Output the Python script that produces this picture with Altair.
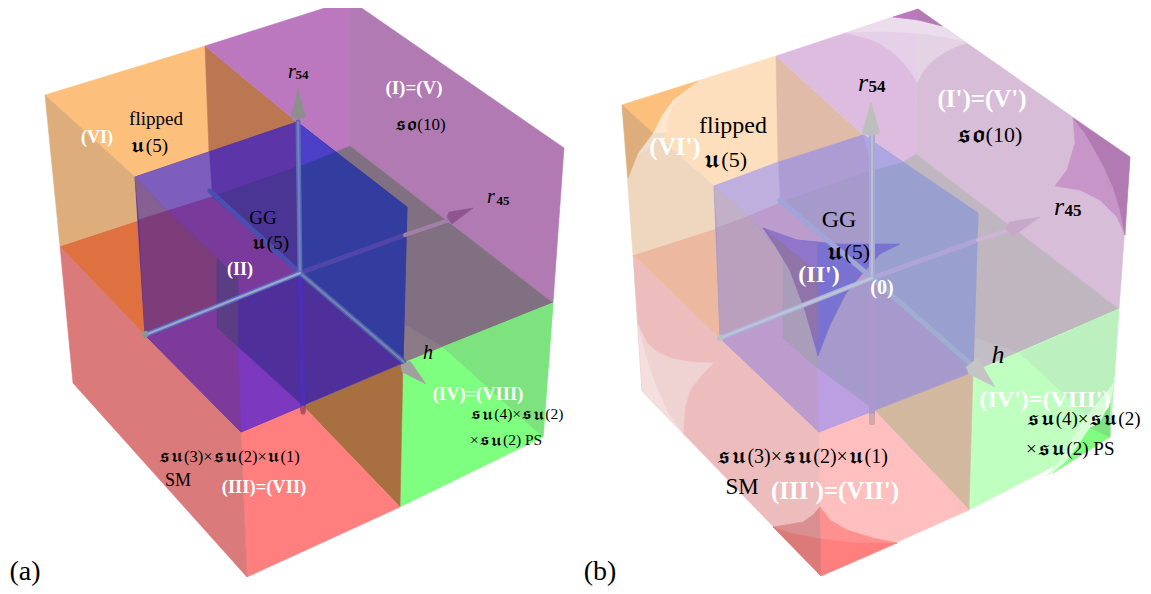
import altair as alt

# ---------- panel (a): faces as (colour, outline) ----------
faces_a = [
 ("#FDBF7C", [(45,95),(205,46),(209,152),(135,177)]),
 ("#BB7752", [(205,46),(297,122),(209,152)]),
 ("#BC78BF", [(205,46),(350,0),(350,146),(335,152),(297,122)]),
 ("#B27AB3", [(350,0),(564,148),(553,303),(350,146)]),
 ("#817081", [(350,146),(553,303),(403,363),(407,207),(335,152)]),
 ("#8B7B87", [(405,325),(443,347),(403,363)]),
 ("#7FFF7F", [(403,363),(553,303),(543,437),(400,507)]),
 ("#7CE37F", [(443,347),(553,303),(543,437)]),
 ("#A87040", [(303,406),(403,363),(400,507)]),
 ("#FF7F7F", [(241,432),(303,406),(400,507),(247,577)]),
 ("#DB7A7A", [(60,246),(73,383),(247,577),(241,432),(145,335)]),
 ("#DF7040", [(60,246),(139,220),(145,335)]),
 ("#DDAE7C", [(45,95),(135,177),(139,220),(60,246)]),
 # central square seen through the cube
 ("#4F2F9A", [(135,177),(297,122),(407,207),(403,363),(241,432),(145,335)]),
 ("#333C9F", [(297,122),(407,207),(403,363),(300,273)]),
 ("#4C3FC8", [(297,122),(335,152),(297,167)]),
 ("#5C36A8", [(209,152),(297,122),(297,167),(212,197)]),
 ("#4A3594", [(212,197),(297,167),(300,273)]),
 ("#7D5EBD", [(135,177),(209,152),(212,197),(167,211)]),
 ("#866090", [(135,177),(167,211),(139,220)]),
 ("#7A3A9B", [(167,211),(212,197),(300,273),(238,298),(238,279)]),
 ("#7D3D7B", [(139,220),(167,211),(217,258),(217,306),(145,335)]),
 ("#7E3A9B", [(145,335),(217,306),(217,327),(238,347),(241,432)]),
 ("#5A3D85", [(217,258),(238,279),(238,347),(217,327)]),
 ("#7C38BF", [(238,347),(303,406),(241,432)]),
]
rods_a = [
 ("#4B2FB5", 5, [(300,273),(303,410)]),
 ("#B0505F", 5, [(303,408),(303,412)]),
 ("#4A4FB0", 5, [(210,191),(300,273)]),
 ("#5045A8", 5, [(300,273),(405,235)]),
 ("#A07FA8", 4, [(405,235),(452,219)]),
 ("#4A60B5", 5, [(300,273),(404,362)]),
 ("#7A84A8", 2, [(300,273),(404,362)]),
 ("#5868BE", 5, [(298,122),(300,273)]),
 ("#7880B8", 2, [(298,122),(300,273)]),
 ("#5A70C8", 5, [(145,335),(300,273)]),
 ("#A0A8C4", 2, [(145,335),(300,273)]),
]
cones_a = [
 ("#8E8E8E", [(298,89),(306,117),(298,119),(291,117)]),
 ("#8E5590", [(473,208),(452,224),(447,217),(449,212)]),
 ("#A0A0A0", [(426,384),(402,372),(401,365),(410,361)]),
 ("#8A9A92", [(142,332),(147,331),(148,336),(143,338)]),
]

# ---------- panel (b) ----------
faces_b = [
 ("#FDDFBE", [(622,105),(776,56),(778,162),(714,186)]),
 ("#DFBBA8", [(776,56),(863,135),(778,162)]),
 ("#DEBCE0", [(776,56),(918,9),(916,154),(903,162),(863,135)]),
 ("#D8BDD9", [(918,9),(1130,157),(1119,309),(916,154)]),
 ("#BFB6C0", [(916,154),(1119,309),(973,372),(978,213),(903,162)]),
 ("#C3BEC5", [(975,338),(1020,353),(973,372)]),
 ("#BFFFBF", [(973,372),(1119,309),(1110,437),(969,510)]),
 ("#BCF1BF", [(1020,353),(1119,309),(1110,437)]),
 ("#D3B8A0", [(874,410),(973,372),(969,510)]),
 ("#FFBFBF", [(819,432),(874,410),(969,510),(821,576)]),
 ("#EDBDBD", [(633,255),(642,391),(821,576),(819,432),(720,338)]),
 ("#EDB8A0", [(633,255),(717,228),(720,338)]),
 ("#EED7BE", [(622,105),(714,186),(717,228),(633,255)]),
 # central square
 ("#A699CC", [(714,186),(863,135),(978,213),(973,372),(819,432),(720,338)]),
 ("#99A0D0", [(863,135),(978,213),(973,372),(872,278)]),
 ("#AEA6E2", [(863,135),(903,162),(872,170)]),
 ("#AD9CD3", [(778,162),(863,135),(872,170),(780,203)]),
 ("#A59AC9", [(780,203),(872,170),(872,278)]),
 ("#BEAFDE", [(714,186),(778,162),(780,203),(749,216)]),
 ("#C2B0C8", [(714,186),(749,216),(717,228)]),
 ("#BC9CCD", [(749,216),(780,203),(872,278),(817,298),(817,290)]),
 ("#BBA0BE", [(717,228),(749,216),(783,257),(783,312),(720,338)]),
 ("#BC9CCD", [(720,338),(783,312),(783,338),(817,368),(819,432)]),
 ("#A99DB9", [(783,257),(817,290),(817,368),(783,338)]),
 ("#BC9FE0", [(817,368),(874,410),(819,432)]),
 # inner star
 ("#7A72D0", [(763,228),(797,240),(840,244),(900,244),(880,254),(862,274),(845,295),(830,325),(818,356),(805,310),(790,270),(775,245)]),
 ("#9076CB", [(763,228),(797,240),(817,243),(817,272)]),
 ("#8F73A9", [(763,228),(817,272),(817,345),(805,310),(790,270),(775,245)]),
 # top-right corner
 ("#EBDDEC", [(846,33),(893,17),(918,20),(942,26),(967,43),(947,38),(927,35),(905,33),(877,32)]),
 ("#E6CFE8", [(846,33),(877,32),(905,33),(916,34),(917,83),(911,72),(905,65),(898,57),(890,50),(880,44),(870,39)]),
 ("#E4D2E5", [(916,34),(927,35),(947,38),(967,43),(955,47),(945,52),(936,58),(928,65),(922,73),(917,83)]),
 ("#BC78BF", [(893,17),(918,9),(918,20)]),
 ("#B27AB3", [(918,9),(942,26),(918,20)]),
 # right corner
 ("#C795C8", [(1073,118),(1084,132),(1093,147),(1104,167),(1113,187),(1120,210),(1125,235),(1117,217),(1100,200),(1080,190),(1055,186),(1067,170),(1075,143)]),
 ("#B27AB3", [(1073,118),(1130,157),(1125,235),(1120,210),(1113,187),(1104,167),(1093,147),(1084,132)]),
 # top-left corner
 ("#FEE7CE", [(698,81),(680,97),(672,107),(667,120),(667,133),(653,133),(662,115),(673,100)]),
 ("#F0DFC8", [(628,178),(638,153),(653,133),(667,133),(660,140),(650,147),(637,155)]),
 ("#FDBF7C", [(622,105),(698,81),(673,100),(662,115),(653,133)]),
 ("#DDAE7C", [(622,105),(653,133),(638,153),(628,178)]),
 # lower-left corner
 ("#EFD2D2", [(638,325),(647,343),(657,352),(670,358),(690,362),(713,363),(700,377),(690,390),(685,407),(683,433),(668,413),(655,383),(645,353)]),
 ("#F4DEDE", [(638,325),(645,353),(655,383),(668,413),(683,433),(642,391)]),
 # bottom corner
 ("#D98F8F", [(773,527),(803,522),(813,515),(820,507),(821,539),(790,533)]),
 ("#FF9090", [(820,507),(830,520),(847,530),(873,538),(897,543),(857,543),(821,539)]),
 ("#DC7A7A", [(773,527),(790,533),(821,539),(821,576)]),
 ("#FF7F7F", [(821,539),(857,543),(897,543),(821,576)]),
 # lower-right corner
 ("#D8FFD8", [(1114,383),(1110,403),(1100,423),(1090,428),(1068,460),(1053,473),(1047,475),(1060,460),(1080,425),(1100,400)]),
 ("#7FFF7F", [(1053,473),(1068,460),(1090,428),(1110,437)]),
 ("#7CE37F", [(1110,403),(1100,423),(1090,428),(1110,437)]),
]
rods_b = [
 ("#AC98CE", 6, [(872,278),(872,422)]),
 ("#D0A8A8", 6, [(872,416),(872,422)]),
 ("#A0A4D8", 5, [(780,200),(872,278)]),
 ("#AFA4D8", 5, [(872,278),(978,240)]),
 ("#CDB5D5", 4, [(978,240),(1012,229)]),
 ("#A0ACD0", 5, [(872,278),(973,366)]),
 ("#A8A8D8", 6, [(872,135),(872,278)]),
 ("#BDBDD0", 2, [(872,135),(872,278)]),
 ("#A8B4DC", 5, [(720,338),(872,278)]),
 ("#C0C4D4", 2, [(720,338),(872,278)]),
]
cones_b = [
 ("#BEBEBE", [(871,102),(880,133),(871,136),(862,133)]),
 ("#C8A8C8", [(1040,217),(1012,237),(1006,229),(1009,222)]),
 ("#C4C4C4", [(995,387),(969,374),(966,367),(978,358)]),
 ("#B8C4BC", [(718,336),(722,335),(723,340),(719,341)]),
]

# ---------- texts: (label, x, y, size) ----------
black_text = [
 ("flipped",156,119,19),("𝖚(5)",149,146,19),("GG",263,218,19),("𝖚(5)",270,243,19),
 ("𝖘𝖔(10)",420,125,17),("𝖘𝖚(3)×𝖘𝖚(2)×𝖚(1)",229,457,16.5),("SM",178,481,18),
 ("(a)",25,572,28),("(b)",600,572,28),
 ("flipped",733,126,24),("𝖚(5)",725,160,22),("GG",839,220,24),("𝖚(5)",848,252,22),
 ("𝖘𝖔(10)",989,135,22),("𝖘𝖚(3)×𝖘𝖚(2)×𝖚(1)",802,457,20),("SM",742,487,23),
]
black_left = [
 ("𝖘𝖚(4)×𝖘𝖚(2)",470,414,15.5),("×𝖘𝖚(2) PS",470,440,15.5),
 ("𝖘𝖚(4)×𝖘𝖚(2)",1026,419,19),("×𝖘𝖚(2) PS",1026,449,19),
]
white_text = [
 ("(VI)",97,138,18),("(II)",240,270,18),("(I)=(V)",414,88,19),("(III)=(VII)",264,487,18.5),
 ("(IV)=(VIII)",478,394,18.5),
 ("(VI')",675,147,25),("(II')",819,275,24),("(0)",882,288,20),("(I')=(V')",982,99,25),
 ("(III')=(VII')",835,491,25),("(IV')=(VIII')",1045,400,24),
]
italic_text = [
 ("r",292,72,20),("r",491,197,20),("h",428,353,20),
 ("r",863,83,26),("r",1059,207,26),("h",998,355,26),
]
index_text = [
 ("54",302,75,13),("45",503,201,13),("54",877,87,17),("45",1073,211,17),
]

def ring(points):
    return [list(p) for p in points] + [list(points[0])]

polygons = [
    {"type":"Feature","properties":{"color":c},"geometry":{"type":"Polygon","coordinates":[ring(p)]}}
    for c,p in faces_a+faces_b
]
rod_features = [
    {"type":"Feature","properties":{"color":c,"w":w},"geometry":{"type":"LineString","coordinates":[list(q) for q in p]}}
    for c,w,p in rods_a+rods_b
]
top_cones = [
    {"type":"Feature","properties":{"color":c},"geometry":{"type":"Polygon","coordinates":[ring(p)]}}
    for c,p in cones_a+cones_b
]

proj = alt.Projection(type="identity", scale=1, translate=[-8,-8])

poly_layer = alt.Chart(alt.Data(values=polygons)).mark_geoshape(strokeWidth=0.6).encode(
    fill=alt.Color("properties.color:N", scale=None),
    stroke=alt.Color("properties.color:N", scale=None),
)
rod_layer = alt.Chart(alt.Data(values=rod_features)).mark_geoshape(filled=False, strokeCap="round").encode(
    stroke=alt.Color("properties.color:N", scale=None),
    strokeWidth=alt.StrokeWidth("properties.w:Q", scale=None),
)
cone_layer = alt.Chart(alt.Data(values=top_cones)).mark_geoshape(strokeWidth=0.5).encode(
    fill=alt.Color("properties.color:N", scale=None),
    stroke=alt.Color("properties.color:N", scale=None),
)

FONT = "Liberation Serif, DejaVu Math TeX Gyre, DejaVu Serif"

def text_layer(rows, color, **kw):
    data = alt.Data(values=[{"t":t,"x":x,"y":y,"s":s} for t,x,y,s in rows])
    return alt.Chart(data).mark_text(font=FONT, color=color, baseline="middle", **kw).encode(
        longitude="x:Q", latitude="y:Q", text="t:N",
        size=alt.Size("s:Q", scale=None),
    )

chart = alt.layer(
    poly_layer, rod_layer, cone_layer,
    text_layer(white_text, "#FFFFFF", fontWeight="bold", align="center"),
    text_layer(black_text, "#000000", align="center"),
    text_layer(black_left, "#000000", align="left"),
    text_layer(italic_text, "#000000", fontStyle="italic", align="center"),
    text_layer(index_text, "#000000", fontWeight="bold", align="center"),
    projection=proj,
).properties(width=1135, height=578, padding=0, background="#FFFFFF").configure_view(stroke=None)

chart.save("out.html", embed_options={"renderer": "svg", "actions": False})
